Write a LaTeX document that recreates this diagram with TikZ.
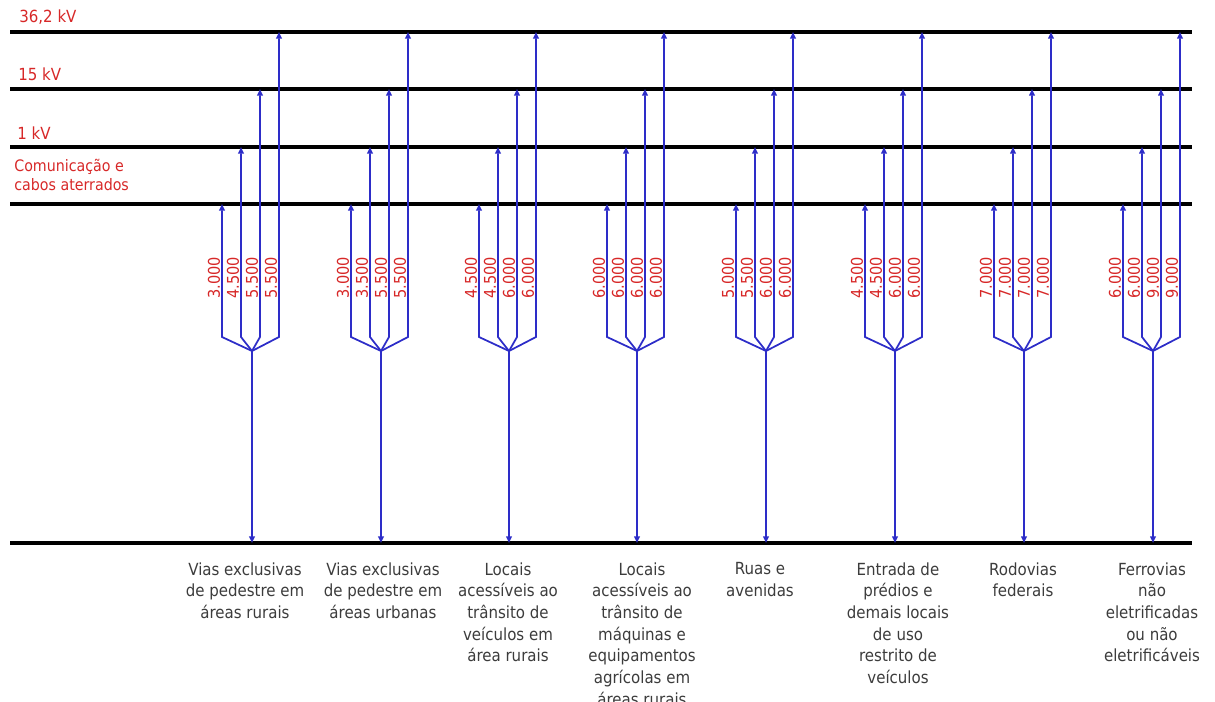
\documentclass[tikz,border=0pt]{standalone}
\usepackage{fontspec}
\setmainfont{DejaVu Sans Condensed}
\usetikzlibrary{arrows.meta}
\definecolor{feedblue}{RGB}{45,45,200}
\definecolor{labelred}{RGB}{215,40,40}
\definecolor{labelgray}{RGB}{60,60,60}
\begin{document}
\begin{tikzpicture}[x=0.02cm, y=0.02cm,
  bus/.style={black, line width=2.3pt},
  feed/.style={feedblue, line width=1pt, -{Triangle[length=3.8pt,width=3.2pt]}},
  volt/.style={labelred, font=\fontsize{9.5}{11}\selectfont, anchor=base west},
  dist/.style={labelred, font=\fontsize{9.2}{11}\selectfont, rotate=90},
  place/.style={labelgray, font=\fontsize{9.5}{12.35}\selectfont, align=center, anchor=north}]
			\tikzstyle{every node}+=[inner sep=0pt]
			\useasboundingbox (0,0) rectangle (1215,-702);
			\clip (0,0) rectangle (1215,-702);
			\coordinate (b36) at (10,-32);
			\coordinate (b15) at (10,-89);
			\coordinate (b1) at (10,-147);
			\coordinate (bcom) at (10,-204);
			\coordinate (bgnd) at (10,-543);
			\draw [bus] (b36) -- (1192,-32);
			\draw [bus] (b15) -- (1192,-89);
			\draw [bus] (b1) -- (1192,-147);
			\draw [bus] (bcom) -- (1192,-204);
			\draw [bus] (bgnd) -- (1192,-543);
			\node [volt] (l36) at (19,-23) {36,2 kV};
			\node [volt] (l15) at (18,-81) {15 kV};
			\node [volt] (l1) at (17,-140) {1 kV};
			\node [volt, anchor=north west, align=left, font=\fontsize{9}{10.8}\selectfont] (lcom) at (14,-159) {Comunicação e\\cabos aterrados};
			% group 1
			\coordinate (j1) at (252,-351);
			\coordinate (g1a) at (222,-337);
			\coordinate (g1b) at (241,-337);
			\coordinate (g1c) at (260,-337);
			\coordinate (g1d) at (279,-337);
			\draw [feed] (j1) -- (g1a) -- (g1a |- bcom);
			\draw [feed] (j1) -- (g1b) -- (g1b |- b1);
			\draw [feed] (j1) -- (g1c) -- (g1c |- b15);
			\draw [feed] (j1) -- (g1d) -- (g1d |- b36);
			\draw [feed] (j1) -- (j1 |- bgnd);
			\node [dist] (n1a) at (214,-278) {3.000};
			\node [dist] (n1b) at (233,-278) {4.500};
			\node [dist] (n1c) at (252,-278) {5.500};
			\node [dist] (n1d) at (271,-278) {5.500};
			\node [place] (t1) at (245,-562) {Vias exclusivas\\de pedestre em\\áreas rurais};
			% group 2
			\coordinate (j2) at (381,-351);
			\coordinate (g2a) at (351,-337);
			\coordinate (g2b) at (370,-337);
			\coordinate (g2c) at (389,-337);
			\coordinate (g2d) at (408,-337);
			\draw [feed] (j2) -- (g2a) -- (g2a |- bcom);
			\draw [feed] (j2) -- (g2b) -- (g2b |- b1);
			\draw [feed] (j2) -- (g2c) -- (g2c |- b15);
			\draw [feed] (j2) -- (g2d) -- (g2d |- b36);
			\draw [feed] (j2) -- (j2 |- bgnd);
			\node [dist] (n2a) at (343,-278) {3.000};
			\node [dist] (n2b) at (362,-278) {3.500};
			\node [dist] (n2c) at (381,-278) {5.500};
			\node [dist] (n2d) at (400,-278) {5.500};
			\node [place] (t2) at (383,-562) {Vias exclusivas\\de pedestre em\\áreas urbanas};
			% group 3
			\coordinate (j3) at (509,-351);
			\coordinate (g3a) at (479,-337);
			\coordinate (g3b) at (498,-337);
			\coordinate (g3c) at (517,-337);
			\coordinate (g3d) at (536,-337);
			\draw [feed] (j3) -- (g3a) -- (g3a |- bcom);
			\draw [feed] (j3) -- (g3b) -- (g3b |- b1);
			\draw [feed] (j3) -- (g3c) -- (g3c |- b15);
			\draw [feed] (j3) -- (g3d) -- (g3d |- b36);
			\draw [feed] (j3) -- (j3 |- bgnd);
			\node [dist] (n3a) at (471,-278) {4.500};
			\node [dist] (n3b) at (490,-278) {4.500};
			\node [dist] (n3c) at (509,-278) {6.000};
			\node [dist] (n3d) at (528,-278) {6.000};
			\node [place] (t3) at (508,-562) {Locais\\acessíveis ao\\trânsito de\\veículos em\\área rurais};
			% group 4
			\coordinate (j4) at (637,-351);
			\coordinate (g4a) at (607,-337);
			\coordinate (g4b) at (626,-337);
			\coordinate (g4c) at (645,-337);
			\coordinate (g4d) at (664,-337);
			\draw [feed] (j4) -- (g4a) -- (g4a |- bcom);
			\draw [feed] (j4) -- (g4b) -- (g4b |- b1);
			\draw [feed] (j4) -- (g4c) -- (g4c |- b15);
			\draw [feed] (j4) -- (g4d) -- (g4d |- b36);
			\draw [feed] (j4) -- (j4 |- bgnd);
			\node [dist] (n4a) at (599,-278) {6.000};
			\node [dist] (n4b) at (618,-278) {6.000};
			\node [dist] (n4c) at (637,-278) {6.000};
			\node [dist] (n4d) at (656,-278) {6.000};
			\node [place] (t4) at (642,-562) {Locais\\acessíveis ao\\trânsito de\\máquinas e\\equipamentos\\agrícolas em\\áreas rurais};
			% group 5
			\coordinate (j5) at (766,-351);
			\coordinate (g5a) at (736,-337);
			\coordinate (g5b) at (755,-337);
			\coordinate (g5c) at (774,-337);
			\coordinate (g5d) at (793,-337);
			\draw [feed] (j5) -- (g5a) -- (g5a |- bcom);
			\draw [feed] (j5) -- (g5b) -- (g5b |- b1);
			\draw [feed] (j5) -- (g5c) -- (g5c |- b15);
			\draw [feed] (j5) -- (g5d) -- (g5d |- b36);
			\draw [feed] (j5) -- (j5 |- bgnd);
			\node [dist] (n5a) at (728,-278) {5.000};
			\node [dist] (n5b) at (747,-278) {5.500};
			\node [dist] (n5c) at (766,-278) {6.000};
			\node [dist] (n5d) at (785,-278) {6.000};
			\node [place] (t5) at (760,-562) {Ruas e\\avenidas};
			% group 6
			\coordinate (j6) at (895,-351);
			\coordinate (g6a) at (865,-337);
			\coordinate (g6b) at (884,-337);
			\coordinate (g6c) at (903,-337);
			\coordinate (g6d) at (922,-337);
			\draw [feed] (j6) -- (g6a) -- (g6a |- bcom);
			\draw [feed] (j6) -- (g6b) -- (g6b |- b1);
			\draw [feed] (j6) -- (g6c) -- (g6c |- b15);
			\draw [feed] (j6) -- (g6d) -- (g6d |- b36);
			\draw [feed] (j6) -- (j6 |- bgnd);
			\node [dist] (n6a) at (857,-278) {4.500};
			\node [dist] (n6b) at (876,-278) {4.500};
			\node [dist] (n6c) at (895,-278) {6.000};
			\node [dist] (n6d) at (914,-278) {6.000};
			\node [place] (t6) at (898,-562) {Entrada de\\prédios e\\demais locais\\de uso\\restrito de\\veículos};
			% group 7
			\coordinate (j7) at (1024,-351);
			\coordinate (g7a) at (994,-337);
			\coordinate (g7b) at (1013,-337);
			\coordinate (g7c) at (1032,-337);
			\coordinate (g7d) at (1051,-337);
			\draw [feed] (j7) -- (g7a) -- (g7a |- bcom);
			\draw [feed] (j7) -- (g7b) -- (g7b |- b1);
			\draw [feed] (j7) -- (g7c) -- (g7c |- b15);
			\draw [feed] (j7) -- (g7d) -- (g7d |- b36);
			\draw [feed] (j7) -- (j7 |- bgnd);
			\node [dist] (n7a) at (986,-278) {7.000};
			\node [dist] (n7b) at (1005,-278) {7.000};
			\node [dist] (n7c) at (1024,-278) {7.000};
			\node [dist] (n7d) at (1043,-278) {7.000};
			\node [place] (t7) at (1023,-562) {Rodovias\\federais};
			% group 8
			\coordinate (j8) at (1153,-351);
			\coordinate (g8a) at (1123,-337);
			\coordinate (g8b) at (1142,-337);
			\coordinate (g8c) at (1161,-337);
			\coordinate (g8d) at (1180,-337);
			\draw [feed] (j8) -- (g8a) -- (g8a |- bcom);
			\draw [feed] (j8) -- (g8b) -- (g8b |- b1);
			\draw [feed] (j8) -- (g8c) -- (g8c |- b15);
			\draw [feed] (j8) -- (g8d) -- (g8d |- b36);
			\draw [feed] (j8) -- (j8 |- bgnd);
			\node [dist] (n8a) at (1115,-278) {6.000};
			\node [dist] (n8b) at (1134,-278) {6.000};
			\node [dist] (n8c) at (1153,-278) {9.000};
			\node [dist] (n8d) at (1172,-278) {9.000};
			\node [place] (t8) at (1152,-562) {Ferrovias\\não\\eletrificadas\\ou não\\eletrificáveis};
		\end{tikzpicture}
\end{document}
